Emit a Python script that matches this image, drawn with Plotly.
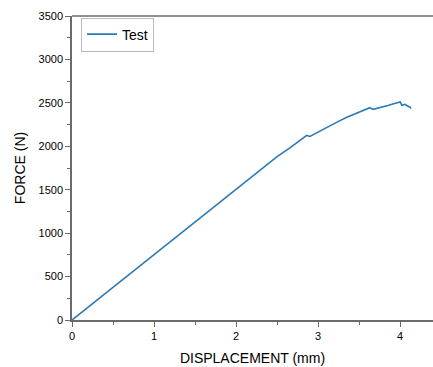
import plotly.graph_objects as go

displacement = [0, 0.5, 1.0, 1.5, 2.0, 2.3, 2.5, 2.66, 2.8, 2.86, 2.9, 3.0, 3.1, 3.23, 3.35, 3.45,
                3.51, 3.58, 3.63, 3.67, 3.72, 3.78, 3.85, 3.92, 4.0, 4.02, 4.06, 4.08, 4.10, 4.12, 4.13]
force = [0, 378, 756, 1134, 1510, 1735, 1880, 1985, 2080, 2125, 2113, 2165, 2215, 2278, 2335, 2375,
         2394, 2420, 2444, 2425, 2440, 2452, 2470, 2490, 2510, 2471, 2483, 2470, 2460, 2450, 2433]

x_ticks = [0, 1, 2, 3, 4]
y_ticks = [0, 500, 1000, 1500, 2000, 2500, 3000, 3500]

axis_color = "#6b6b6b"
font = "Liberation Sans, Arial, sans-serif"

fig = go.Figure()
fig.add_trace(go.Scatter(x=displacement, y=force, mode="lines", name="Test",
                         line=dict(color="#2a7ab8", width=1.6)))

fig.update_layout(
    width=433, height=367,
    margin=dict(l=72, r=0, t=16, b=47),
    paper_bgcolor="white", plot_bgcolor="white",
    font=dict(family=font, color="black", size=11),
    showlegend=True,
    legend=dict(x=0.025, y=0.995, xanchor="left", yanchor="top",
                bordercolor="#bbbbbb", borderwidth=1, bgcolor="white",
                font=dict(size=14, family=font), itemwidth=30,
                tracegroupgap=0),
)
fig.update_xaxes(
    range=[0, 4.4], tickvals=x_ticks, ticktext=[str(v) for v in x_ticks],
    showgrid=False, zeroline=False, showline=True, linecolor=axis_color, linewidth=1.5,
    ticks="outside", ticklen=5, tickwidth=1.2, tickcolor=axis_color,
    minor=dict(dtick=0.5, tick0=0, ticks="outside", ticklen=3, tickcolor=axis_color, tickwidth=1),
    title=dict(text="DISPLACEMENT (mm)", font=dict(size=14, family=font), standoff=12),
    tickfont=dict(size=11, family=font),
)
fig.update_yaxes(
    range=[0, 3500], tickvals=y_ticks, ticktext=[str(v) for v in y_ticks],
    showgrid=False, zeroline=False, showline=True, linecolor=axis_color, linewidth=1.5,
    ticks="outside", ticklen=5, tickwidth=1.2, tickcolor=axis_color,
    minor=dict(dtick=250, tick0=0, ticks="outside", ticklen=3, tickcolor=axis_color, tickwidth=1),
    title=dict(text="FORCE (N)", font=dict(size=14, family=font), standoff=10),
    tickfont=dict(size=11, family=font),
)
# top frame line
fig.add_shape(type="line", xref="paper", yref="paper", x0=0, x1=1, y0=1, y1=1,
              line=dict(color=axis_color, width=1.5))

fig.write_html("out.html")
